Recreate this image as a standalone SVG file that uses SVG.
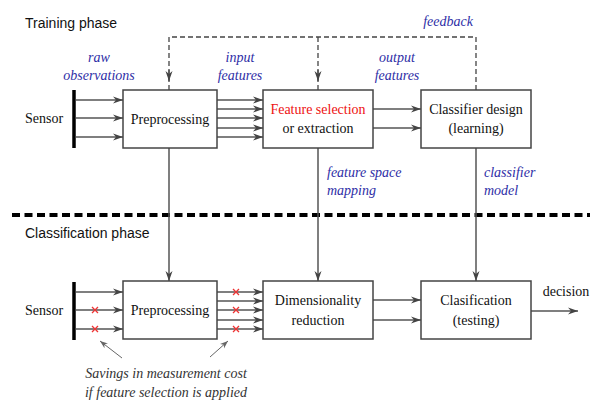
<svg xmlns="http://www.w3.org/2000/svg" width="590" height="402" viewBox="0 0 590 402">
<defs>
<marker id="ah" markerUnits="userSpaceOnUse" markerWidth="11" markerHeight="8" refX="10" refY="4" orient="auto">
<path d="M0,0.5 L10,4 L0,7.5 L3,4 Z" fill="#444"/>
</marker>
<marker id="ahs" markerUnits="userSpaceOnUse" markerWidth="9" markerHeight="7" refX="8" refY="3.5" orient="auto">
<path d="M0,0.5 L8,3.5 L0,6.5 L2.5,3.5 Z" fill="#666"/>
</marker>
</defs>
<style>
.box{fill:#fff;stroke:#444;stroke-width:1.5}
.lbl{font-family:"Liberation Serif",serif;font-size:14px;fill:#111;text-anchor:middle}
.red{fill:#ee1111}
.blue{font-family:"Liberation Serif",serif;font-style:italic;font-size:14px;fill:#2e2ea6}
.mid{text-anchor:middle}
.title{font-family:"Liberation Sans",sans-serif;font-size:14px;fill:#111}
.note{font-family:"Liberation Serif",serif;font-style:italic;font-size:14px;fill:#333;text-anchor:middle}
.c{fill:none;stroke:#555;stroke-width:1.5}
.a{marker-end:url(#ah)}
.fb{fill:none;stroke:#444;stroke-width:1.3;stroke-dasharray:5,3}
.bar{stroke:#000;stroke-width:3.5}
.x{stroke:#ee3333;stroke-width:1.3}
</style>
<text class="title" x="25" y="28">Training phase</text>
<text class="title" x="25" y="238">Classification phase</text>
<line x1="12" y1="215" x2="590" y2="215" stroke="#000" stroke-width="4" stroke-dasharray="8,4.5"/>
<g id="connectors">
<!-- training sensor -->
<line class="bar" x1="74" y1="90" x2="74" y2="148"/>
<line class="c a" x1="76" y1="100" x2="123" y2="100"/>
<line class="c a" x1="76" y1="118" x2="123" y2="118"/>
<line class="c a" x1="76" y1="137" x2="123" y2="137"/>
<line class="c a" x1="217" y1="100" x2="263" y2="100"/>
<line class="c a" x1="217" y1="109" x2="263" y2="109"/>
<line class="c a" x1="217" y1="118" x2="263" y2="118"/>
<line class="c a" x1="217" y1="128" x2="263" y2="128"/>
<line class="c a" x1="217" y1="137" x2="263" y2="137"/>
<line class="c a" x1="373" y1="109" x2="421" y2="109"/>
<line class="c a" x1="373" y1="128" x2="421" y2="128"/>
<!-- feedback -->
<path class="fb" d="M476,90 V37 H169 V90"/>
<line class="fb" x1="318" y1="37" x2="318" y2="90"/>
<line class="c a" x1="169" y1="70" x2="169" y2="81" stroke-width="0.1"/>
<line class="c a" x1="318" y1="70" x2="318" y2="81" stroke-width="0.1"/>
<!-- vertical links -->
<line class="c a" x1="169" y1="148" x2="169" y2="281"/>
<line class="c a" x1="318" y1="148" x2="318" y2="281"/>
<line class="c a" x1="476" y1="148" x2="476" y2="281"/>
<!-- classification sensor -->
<line class="bar" x1="74" y1="282" x2="74" y2="340"/>
<line class="c a" x1="76" y1="292" x2="123" y2="292"/>
<line class="c a" x1="76" y1="310" x2="123" y2="310"/>
<line class="c a" x1="76" y1="329" x2="123" y2="329"/>
<line class="c a" x1="217" y1="292" x2="263" y2="292"/>
<line class="c a" x1="217" y1="301" x2="263" y2="301"/>
<line class="c a" x1="217" y1="310" x2="263" y2="310"/>
<line class="c a" x1="217" y1="320" x2="263" y2="320"/>
<line class="c a" x1="217" y1="329" x2="263" y2="329"/>
<line class="c a" x1="373" y1="300" x2="421" y2="300"/>
<line class="c a" x1="373" y1="320" x2="421" y2="320"/>
<line class="c a" x1="531" y1="311" x2="578" y2="311"/>
<!-- savings pointers -->
<line x1="122" y1="358" x2="100" y2="341" stroke="#666" stroke-width="1" marker-end="url(#ahs)"/>
<line x1="210" y1="357" x2="228" y2="341" stroke="#666" stroke-width="1" marker-end="url(#ahs)"/>
<!-- red crosses -->
<path class="x" d="M92,307 l6,6 m0,-6 l-6,6 M92,326 l6,6 m0,-6 l-6,6"/>
<path class="x" d="M233,289 l6,6 m0,-6 l-6,6 M233,307 l6,6 m0,-6 l-6,6 M233,326 l6,6 m0,-6 l-6,6"/>
</g>
<g id="sensor-train"><text class="lbl" x="44" y="123">Sensor</text></g>
<g id="pre-train"><rect class="box" x="123" y="90" width="94" height="58"/><text class="lbl" x="170" y="124">Preprocessing</text></g>
<g id="fs-train"><rect class="box" x="263" y="90" width="110" height="58"/><text class="lbl red" x="318" y="114">Feature selection</text><text class="lbl" x="318" y="133">or extraction</text></g>
<g id="cd-train"><rect class="box" x="421" y="90" width="110" height="58"/><text class="lbl" x="476" y="114">Classifier design</text><text class="lbl" x="476" y="133">(learning)</text></g>
<g id="sensor-class"><text class="lbl" x="44" y="315">Sensor</text></g>
<g id="pre-class"><rect class="box" x="123" y="281" width="94" height="58"/><text class="lbl" x="170" y="315">Preprocessing</text></g>
<g id="dr-class"><rect class="box" x="263" y="281" width="110" height="58"/><text class="lbl" x="318" y="305">Dimensionality</text><text class="lbl" x="318" y="325">reduction</text></g>
<g id="cl-class"><rect class="box" x="421" y="281" width="110" height="58"/><text class="lbl" x="476" y="305">Clasification</text><text class="lbl" x="476" y="325">(testing)</text></g>
<g id="labels">
<text class="blue mid" x="99" y="62">raw</text>
<text class="blue mid" x="99" y="80">observations</text>
<text class="blue mid" x="240" y="62">input</text>
<text class="blue mid" x="240" y="80">features</text>
<text class="blue mid" x="397" y="62">output</text>
<text class="blue mid" x="397" y="80">features</text>
<text class="blue mid" x="448" y="26">feedback</text>
<text class="blue" x="327" y="177">feature space</text>
<text class="blue" x="327" y="195">mapping</text>
<text class="blue" x="484" y="177">classifier</text>
<text class="blue" x="484" y="195">model</text>
<text class="lbl" x="566" y="296">decision</text>
<text class="note" x="166" y="378">Savings in measurement cost</text>
<text class="note" x="166" y="397">if feature selection is applied</text>
</g>
</svg>
